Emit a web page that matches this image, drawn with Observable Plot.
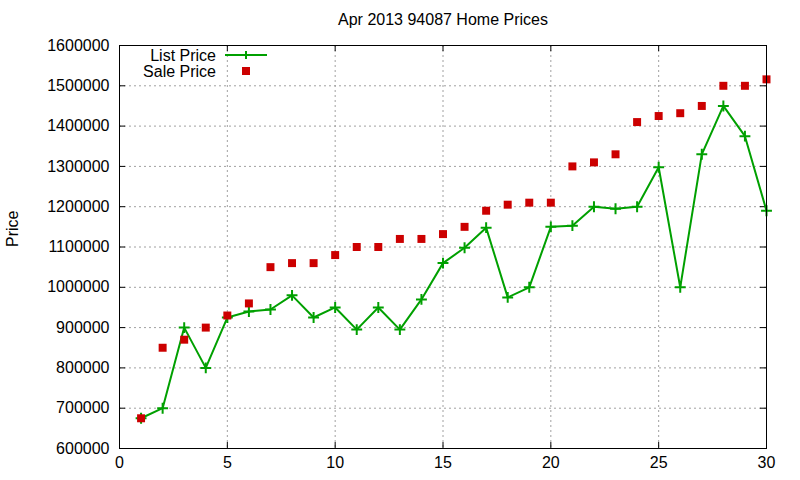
<!DOCTYPE html>
<html><head><meta charset="utf-8">
<script src="https://cdn.jsdelivr.net/npm/d3@7"></script>
<script src="https://cdn.jsdelivr.net/npm/@observablehq/plot@0.6"></script>
<style>body{margin:0;background:#fff}</style>
</head><body><div id="chart"></div>
<script>
const titleText = "Apr 2013 94087 Home Prices";
const yLabel = "Price";
const days = [1,2,3,4,5,6,7,8,9,10,11,12,13,14,15,16,17,18,19,20,21,22,23,24,25,26,27,28,29,30];
const listPrice = [675000,700000,900000,800000,925000,940000,945000,980000,925000,950000,
  895000,950000,895000,970000,1060000,1098000,1148000,975000,1000000,1150000,
  1153000,1200000,1195000,1200000,1298000,1000000,1330000,1450000,1375000,1190000];
const salePrice = [675000,850000,870000,900000,930000,960000,1050000,1060000,1060000,1080000,
  1100000,1100000,1120000,1120000,1132000,1150000,1190000,1205000,1210000,1210000,
  1300000,1310000,1330000,1410000,1425000,1432000,1450000,1500000,1500000,1516000];
const xTicks = [0,5,10,15,20,25,30];
const yTicks = [600000,700000,800000,900000,1000000,1100000,1200000,1300000,1400000,1500000,1600000];
const xGrid = [5,10,15,20,25];
const yGrid = [700000,800000,900000,1000000,1100000,1200000,1300000,1400000,1500000];
const seriesNames = ["List Price","Sale Price"];

const W = 800, H = 480;
const mL = 119, mR = 34, mT = 45, mB = 32;
const pw = W - mL - mR, ph = H - mT - mB;
const green = "#00a000", red = "#cc0000";
const listData = days.map((d,i) => ({day:d, price:listPrice[i]}));
const saleData = days.map((d,i) => ({day:d, price:salePrice[i]}));
const grid = {stroke:"#a0a0a0", strokeDasharray:"2,3", strokeWidth:1, strokeOpacity:1};

const chart = Plot.plot({
  width: W, height: H,
  marginLeft: mL, marginRight: mR, marginTop: mT, marginBottom: mB,
  style: {fontFamily: "'Liberation Sans', Arial, sans-serif", fontSize: "16px", background: "#fff", color: "#000"},
  x: {domain: [0,30]},
  y: {domain: [600000,1600000]},
  marks: [
    Plot.ruleX(xGrid, grid),
    Plot.ruleY(yGrid, grid),
    Plot.tickX(xTicks, {x: d => d, insetTop: ph - 6, stroke: "#000"}),
    Plot.tickX(xTicks, {x: d => d, insetBottom: ph - 6, stroke: "#000"}),
    Plot.tickY(yTicks, {y: d => d, insetRight: pw - 6, stroke: "#000"}),
    Plot.tickY(yTicks, {y: d => d, insetLeft: pw - 6, stroke: "#000"}),
    Plot.axisX({ticks: xTicks, tickSize: 0, tickPadding: 8, label: null, fontSize: 16}),
    Plot.axisY({ticks: yTicks, tickSize: 0, tickPadding: 10, label: null, tickFormat: d3.format("d"), fontSize: 16}),
    Plot.line(listData, {x: "day", y: "price", stroke: green, strokeWidth: 2}),
    Plot.dot(listData, {x: "day", y: "price", symbol: "plus", stroke: green, strokeWidth: 2, r: 3.6}),
    Plot.dot(saleData, {x: "day", y: "price", symbol: "square", fill: red, r: 4.5}),
    Plot.frame({stroke: "#000"}),
    Plot.text([titleText], {frameAnchor: "top", dy: -32, fontSize: 16, fill: "#000"}),
    Plot.text([yLabel], {frameAnchor: "left", dx: -107, rotate: -90, fontSize: 16, fill: "#000"})
  ]
});

// legend inside top-left
const svg = d3.select(chart);
const lg = svg.append("g").attr("font-family", "'Liberation Sans', Arial, sans-serif").attr("font-size", 16);
const rows = [{name: seriesNames[0], y: 55}, {name: seriesNames[1], y: 71}];
rows.forEach((r, i) => {
  lg.append("text").attr("x", 216).attr("y", r.y).attr("text-anchor", "end").attr("dy", "0.35em").attr("fill", "#000").text(r.name);
  if (i === 0) {
    lg.append("line").attr("x1", 225).attr("x2", 267).attr("y1", r.y).attr("y2", r.y).attr("stroke", green).attr("stroke-width", 2);
    lg.append("path").attr("d", `M242,${r.y}h8M246,${r.y-4}v8`).attr("stroke", green).attr("stroke-width", 2);
  } else {
    lg.append("rect").attr("x", 242).attr("y", r.y - 4).attr("width", 8).attr("height", 8).attr("fill", red);
  }
});
document.getElementById("chart").appendChild(chart);
</script>
</body></html>
